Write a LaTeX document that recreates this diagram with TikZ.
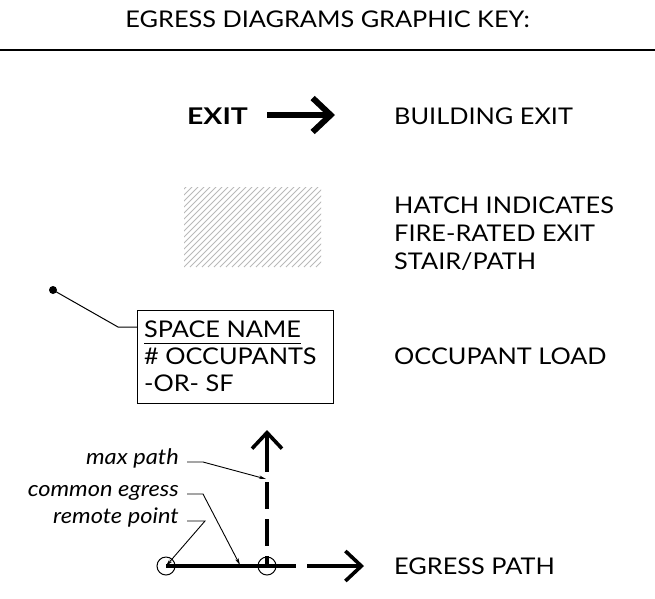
\documentclass[tikz,border=0pt]{standalone}
\usepackage{fontspec}
\setmainfont{Lato}[FakeStretch=1.1]
\usetikzlibrary{arrows.meta,calc}
\begin{document}
\begin{tikzpicture}[x=1pt,y=-1pt,
  keytext/.style={anchor=base west, inner sep=0pt, font=\fontsize{23}{28}\selectfont},
  boxtext/.style={anchor=base west, inner sep=0pt, font=\fontsize{23}{28}\selectfont},
  leadtext/.style={anchor=mid east, inner sep=0pt, font=\fontsize{21.5}{25}\selectfont\itshape},
  leader/.style={line width=0.9pt, -{Stealth[length=7pt,width=3.5pt]}},
  thinline/.style={line width=1pt},
  egress/.style={line width=3.6pt},
  barb/.style={-{Straight Barb[length=16pt,width=30pt]}},
  spot/.style={circle, draw, line width=1pt, minimum size=18pt, inner sep=0pt}
]
\useasboundingbox (0,0) rectangle (655,598);

% heading and rule
\node[anchor=base, inner sep=0pt, font=\fontsize{23}{28}\selectfont] (title) at (327.5,27) {EGRESS DIAGRAMS GRAPHIC KEY:};
\coordinate (ruleL) at (0,50);
\coordinate (ruleR) at (655,50);
\draw[line width=1.5pt] (ruleL) -- (ruleR);

% building exit symbol
\node[anchor=base west, inner sep=0pt, font=\fontsize{23}{28}\selectfont\bfseries] (exit) at (187,124) {\scalebox{1.12}[1]{EXIT}};
\coordinate (exitA) at (267,115);
\coordinate (exitB) at (335,115);
\draw[line width=6pt, -{Straight Barb[length=18pt,width=34pt]}] (exitA) -- (exitB);
\node[keytext] (lblexit) at (394,124) {BUILDING EXIT};

% hatch swatch
\coordinate (hatchNW) at (184,187);
\coordinate (hatchSE) at (321,267);
\begin{scope}
  \clip (hatchNW) rectangle (hatchSE);
  \foreach \k in {0,6,...,240}{
    \draw[gray!55, line width=0.9pt] (184+\k-90,267) -- (184+\k,177);
  }
\end{scope}
\node[keytext] (lblhatch1) at (394,213) {HATCH INDICATES};
\node[keytext] (lblhatch2) at (394,241) {FIRE-RATED EXIT};
\node[keytext] (lblhatch3) at (394,269) {STAIR/PATH};

% room tag
\node[draw, thinline, anchor=north west, minimum width=196pt, minimum height=93pt, inner sep=0pt] (room) at (137,310) {};
\node[boxtext] (spacename) at (144,337) {SPACE NAME};
\draw[thinline] ($(spacename.base west)+(0,6)$) -- ($(spacename.base east)+(0,6)$);
\node[boxtext] (occupants) at (144,364) {\# OCCUPANTS};
\node[boxtext] (orsf) at (144,391) {-OR- SF};
\node[circle, fill=black, inner sep=0pt, minimum size=8pt] (tagdot) at (53,290) {};
\coordinate (tagbend) at (118,327);
\coordinate (tagjoin) at (137,327);
\draw[thinline] (tagdot.center) -- (tagbend) -- (tagjoin);
\node[keytext] (lblload) at (394,364) {OCCUPANT LOAD};

% egress path symbol
\node[spot] (c1) at (166,566) {};
\node[spot] (c2) at (267,566) {};
\coordinate (pathtip) at (364,566);
\coordinate (uptip) at (267,430);
\draw[egress, barb, dash pattern=on 130pt off 11pt on 120pt] (c1.center) -- (pathtip);
\draw[egress, {Straight Barb[length=16pt,width=30pt]}-, dash pattern=on 38pt off 10pt on 27pt off 10pt on 27pt off 10pt on 40pt] (uptip) -- (c2.center);
\node[keytext] (lblegress) at (394,574) {EGRESS PATH};

% leaders
\node[leadtext] (maxpath) at (179,462) {max path};
\node[leadtext] (common) at (179,494) {common egress};
\node[leadtext] (remote) at (179,521) {remote point};
\coordinate (maxbend) at (203,462);
\coordinate (maxend) at (266,479);
\coordinate (combend) at (203,494);
\coordinate (comend) at (240,565);
\coordinate (rembend) at (205,521);
\draw[leader] ($(maxpath.mid east)+(8,0)$) -- (maxbend) -- (maxend);
\draw[leader] ($(common.mid east)+(8,0)$) -- (combend) -- (comend);
\draw[leader] ($(remote.mid east)+(8,0)$) -- (rembend) -- (c1.center);
\end{tikzpicture}
\end{document}
